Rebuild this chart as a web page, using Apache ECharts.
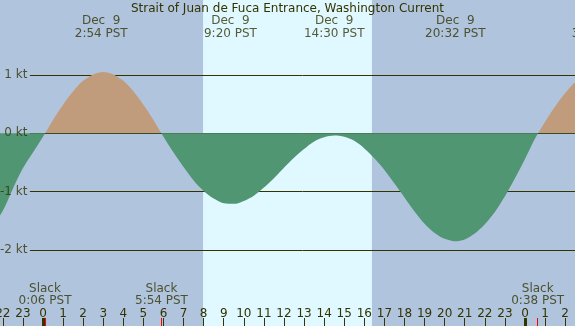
<!DOCTYPE html>
<html>
<head>
<meta charset="utf-8">
<script src="https://cdn.jsdelivr.net/npm/echarts@6/dist/echarts.min.js"></script>
<style>
html, body { margin: 0; padding: 0; }
#chart { width: 575px; height: 326px; }
</style>
</head>
<body>
<div id="chart"></div>
<script>
const stationTitle = 'Strait of Juan de Fuca Entrance, Washington Current';

// current speed (kt) every half hour, hours from midnight Dec 9
const hours = [
    -3, -2.5, -2, -1.5, -1, -0.5, 0, 0.5, 1, 1.5, 2, 2.5, 3, 3.5, 4, 4.5, 5, 5.5,
    6, 6.5, 7, 7.5, 8, 8.5, 9, 9.5, 10, 10.5, 11, 11.5, 12, 12.5, 13, 13.5, 14, 14.5,
    15, 15.5, 16, 16.5, 17, 17.5, 18, 18.5, 19, 19.5, 20, 20.5, 21, 21.5, 22, 22.5,
    23, 23.5, 24, 24.5, 25, 25.5, 26, 26.5, 27, 27.5
];
const knots = [
    -1.8, -1.58, -1.33, -0.95, -0.6, -0.33, -0.06, 0.23, 0.49, 0.72, 0.9, 1.01, 1.05, 1.01, 0.9, 0.72, 0.49, 0.23,
    -0.06, -0.33, -0.58, -0.81, -0.99, -1.12, -1.2, -1.21, -1.16, -1.07, -0.93, -0.77, -0.59, -0.42, -0.27, -0.14, -0.07, -0.04,
    -0.06, -0.13, -0.26, -0.43, -0.63, -0.86, -1.1, -1.34, -1.55, -1.71, -1.81, -1.85, -1.82, -1.72, -1.56, -1.35,
    -1.08, -0.77, -0.44, -0.09, 0.2, 0.46, 0.69, 0.88, 1.0, 1.06
];

const tickHours = [-2, -1, 0, 1, 2, 3, 4, 5, 6, 7, 8, 9, 10, 11, 12, 13, 14, 15, 16, 17, 18, 19, 20, 21, 22, 23, 24, 25, 26];
const levels = [1, 0, -1, -2];

const extremaHours = [2.9, 9.333, 14.5, 20.533, 27.65];
const extremaDates = ['Dec  9', 'Dec  9', 'Dec  9', 'Dec  9', 'Dec 10'];
const extremaTimes = ['2:54 PST', '9:20 PST', '14:30 PST', '20:32 PST', '3:39 PST'];

const slackHours = [0.1, 5.9, 24.633];
const slackTimes = ['0:06 PST', '5:54 PST', '0:38 PST'];

const midnights = [0, 24];
const daylight = [7.97, 16.38];

const X_MIN = -2.14, X_MAX = 26.49;
const Y_MIN = -3.305, Y_MAX = 2.286;
const LINE_START = -0.65;
const MARK_LEN = 0.137;
const INK = '#333300';
const FONT = 'DejaVu Sans';

function textSeries(data, position, distance, formatter) {
    return {
        type: 'scatter',
        z: 7,
        clip: false,
        silent: true,
        symbolSize: 1,
        itemStyle: { color: 'rgba(0,0,0,0)' },
        label: {
            show: true, position: position, distance: distance,
            lineHeight: 12.5,
            color: INK, fontSize: 12, fontFamily: FONT,
            formatter: formatter
        },
        data: data
    };
}

const chart = echarts.init(document.getElementById('chart'));

chart.setOption({
    animation: false,
    backgroundColor: '#b0c4de',
    title: {
        text: stationTitle,
        left: 'center',
        top: 3,
        padding: 0,
        textStyle: { color: INK, fontSize: 12, fontWeight: 'normal', fontFamily: FONT }
    },
    grid: { left: 0, right: 0, top: 0, bottom: 0, outerBoundsMode: 'none' },
    xAxis: {
        type: 'value',
        min: X_MIN,
        max: X_MAX,
        z: 10,
        axisLine: { show: false, onZero: false },
        splitLine: { show: false },
        axisTick: {
            show: true, inside: true, length: 8,
            customValues: tickHours,
            lineStyle: { color: INK, width: 1 }
        },
        axisLabel: {
            inside: true, margin: 6,
            customValues: tickHours,
            formatter: v => String(((v % 24) + 24) % 24),
            color: INK, fontSize: 12, fontFamily: FONT
        }
    },
    yAxis: { type: 'value', min: Y_MIN, max: Y_MAX, show: false },
    visualMap: {
        type: 'piecewise',
        show: false,
        seriesIndex: 1,
        dimension: 1,
        pieces: [
            { gt: 0, lte: 10, color: '#c09c7c' },
            { gte: -10, lte: 0, color: '#509672' }
        ]
    },
    series: [
        {
            // daylight band + kt reference lines
            type: 'line',
            data: [],
            silent: true,
            markArea: {
                z: 0,
                silent: true,
                itemStyle: { color: '#e0f8ff' },
                data: [[{ xAxis: daylight[0] }, { xAxis: daylight[1] }]]
            },
            markLine: {
                z: 1,
                silent: true,
                symbol: ['none', 'none'],
                lineStyle: { color: INK, width: 1, type: 'solid' },
                label: { show: false },
                emphasis: { disabled: true },
                data: levels.map(v => [
                    { coord: [LINE_START, v] },
                    { coord: [X_MAX, v] }
                ])
            }
        },
        {
            name: 'current',
            type: 'line',
            z: 3,
            silent: true,
            smooth: 0.3,
            showSymbol: false,
            lineStyle: { width: 0, opacity: 0 },
            areaStyle: { opacity: 1 },
            data: hours.map((h, i) => [h, knots[i]])
        },
        {
            // midnight and slack marks along the bottom
            type: 'line',
            data: [],
            silent: true,
            markLine: {
                z: 6,
                silent: true,
                symbol: ['none', 'none'],
                label: { show: false },
                emphasis: { disabled: true },
                data: midnights.map(h => [
                    { coord: [h, Y_MIN], lineStyle: { color: INK, width: 3, type: 'solid' } },
                    { coord: [h, Y_MIN + MARK_LEN] }
                ]).concat(slackHours.map(h => [
                    { coord: [h, Y_MIN], lineStyle: { color: '#ff0000', width: 1, type: 'solid' } },
                    { coord: [h, Y_MIN + MARK_LEN] }
                ]))
            }
        },
        // kt labels to the left of the reference lines
        textSeries(levels.map(v => [LINE_START, v]), 'left', 2, p => levels[p.dataIndex] + ' kt'),
        // max / min current labels at the top
        textSeries(extremaHours.map(h => [h, Y_MAX]), 'bottom', 14.5,
            p => extremaDates[p.dataIndex] + '\n' + extremaTimes[p.dataIndex]),
        // slack labels at the bottom
        textSeries(slackHours.map(h => [h, Y_MIN]), 'top', 18,
            p => 'Slack\n' + slackTimes[p.dataIndex])
    ]
});
</script>
</body>
</html>
